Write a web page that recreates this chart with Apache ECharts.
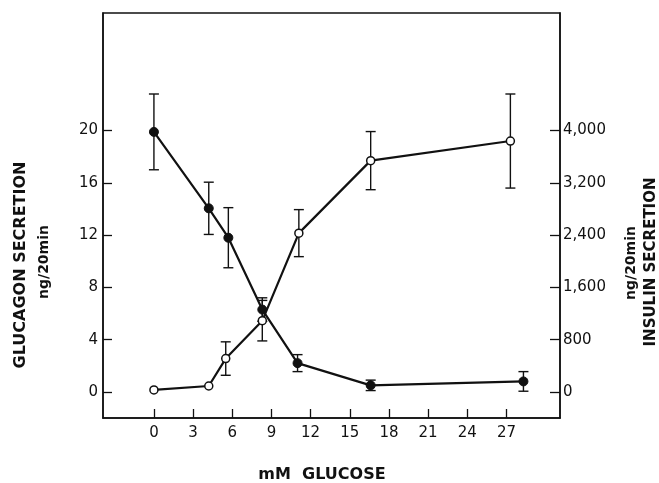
<!DOCTYPE html>
<html>
<head>
<meta charset="utf-8">
<script src="https://cdn.jsdelivr.net/npm/echarts@6/dist/echarts.min.js"></script>
<style>
  html, body { margin: 0; padding: 0; background: #fff; }
  #chart { width: 659px; height: 483px; }
</style>
</head>
<body>
<div id="chart"></div>
<script>
// Glucose concentrations (mM) and secretion responses
const glucoseGlucagon = [0, 4.2, 5.7, 8.3, 11.0, 16.6, 28.3];
const glucagonMean    = [19.9, 14.05, 11.8, 6.3, 2.2, 0.5, 0.8];
const glucagonErr     = [2.9, 2.0, 2.3, 0.9, 0.65, 0.4, 0.75];

const glucoseInsulin  = [0, 4.2, 5.5, 8.3, 11.1, 16.6, 27.3];
const insulinMean     = [30, 90, 510, 1090, 2430, 3540, 3840];
const insulinErr      = [0, 0, 256, 310, 360, 445, 720];

const xTicks        = [0, 3, 6, 9, 12, 15, 18, 21, 24, 27];
const glucagonTicks = [0, 4, 8, 12, 16, 20];
const insulinTicks  = [0, 800, 1600, 2400, 3200, 4000];

const FONT = 'DejaVu Sans';
const INK = '#111';

const pairs = (xs, ys) => xs.map((x, i) => [x, ys[i]]);
const errRows = (xs, ys, es) => xs.map((x, i) => [x, ys[i] - es[i], ys[i] + es[i]]).filter((r, i) => es[i] > 0);

// Vertical bar with a cap at each end, placed through the series' axes
function errorBar(params, api) {
  const x = api.value(0);
  const lo = api.coord([x, api.value(1)]);
  const hi = api.coord([x, api.value(2)]);
  const w = 5;
  const style = { stroke: INK, lineWidth: 1.4 };
  return {
    type: 'group',
    children: [
      { type: 'line', shape: { x1: lo[0], y1: lo[1], x2: hi[0], y2: hi[1] }, style },
      { type: 'line', shape: { x1: lo[0] - w, y1: lo[1], x2: lo[0] + w, y2: lo[1] }, style },
      { type: 'line', shape: { x1: hi[0] - w, y1: hi[1], x2: hi[0] + w, y2: hi[1] }, style }
    ]
  };
}

const thousands = v => v >= 1000 ? String(v).replace(/(\d)(\d{3})$/, '$1,$2') : String(v);

const axisLineStyle = { show: true, onZero: false, lineStyle: { color: INK, width: 1.5 } };
const tickStyle = { lineStyle: { color: INK, width: 1.3 } };

const chart = echarts.init(document.getElementById('chart'), null, { renderer: 'canvas' });
chart.setOption({
  backgroundColor: '#fff',
  animation: false,
  grid: {
    left: 103, right: 99, top: 13, bottom: 65,
    show: true, borderColor: INK, borderWidth: 1.5, backgroundColor: 'transparent'
  },
  xAxis: {
    type: 'value', min: -3.9, max: 31.1,
    axisLine: axisLineStyle,
    splitLine: { show: false },
    axisTick: { inside: true, length: 9, customValues: xTicks, ...tickStyle },
    axisLabel: { customValues: xTicks, margin: 8, fontFamily: FONT, fontSize: 15, color: INK }
  },
  yAxis: [
    {
      type: 'value', min: -2, max: 29, position: 'left',
      axisLine: axisLineStyle,
      splitLine: { show: false },
      axisTick: { show: true, inside: true, length: 9, customValues: glucagonTicks, ...tickStyle },
      axisLabel: { customValues: glucagonTicks, margin: 5, fontFamily: FONT, fontSize: 15, color: INK }
    },
    {
      type: 'value', min: -400, max: 5800, position: 'right',
      axisLine: axisLineStyle,
      splitLine: { show: false },
      axisTick: { show: true, inside: true, length: 10, customValues: insulinTicks, ...tickStyle },
      axisLabel: { customValues: insulinTicks, margin: 3, fontFamily: FONT, fontSize: 15, color: INK,
                   formatter: thousands }
    }
  ],
  graphic: [
    { type: 'text', x: 21, y: 265, rotation: Math.PI / 2,
      style: { text: 'GLUCAGON SECRETION', font: 'bold 16px "' + FONT + '"', fill: INK, align: 'center', verticalAlign: 'middle' } },
    { type: 'text', x: 44, y: 262, rotation: Math.PI / 2,
      style: { text: 'ng/20min', font: 'bold 14px "' + FONT + '"', fill: INK, align: 'center', verticalAlign: 'middle' } },
    { type: 'text', x: 651, y: 262, rotation: Math.PI / 2,
      style: { text: 'INSULIN SECRETION', font: 'bold 15px "' + FONT + '"', fill: INK, align: 'center', verticalAlign: 'middle' } },
    { type: 'text', x: 631, y: 263, rotation: Math.PI / 2,
      style: { text: 'ng/20min', font: 'bold 14px "' + FONT + '"', fill: INK, align: 'center', verticalAlign: 'middle' } },
    { type: 'text', x: 322, y: 475,
      style: { text: 'mM  GLUCOSE', font: 'bold 16px "' + FONT + '"', fill: INK, align: 'center', verticalAlign: 'middle' } }
  ],
  series: [
    {
      name: 'Glucagon error', type: 'custom', xAxisIndex: 0, yAxisIndex: 0, z: 2,
      renderItem: errorBar, data: errRows(glucoseGlucagon, glucagonMean, glucagonErr)
    },
    {
      name: 'Insulin error', type: 'custom', xAxisIndex: 0, yAxisIndex: 1, z: 2,
      renderItem: errorBar, data: errRows(glucoseInsulin, insulinMean, insulinErr)
    },
    {
      name: 'Glucagon', type: 'line', yAxisIndex: 0, z: 3,
      data: pairs(glucoseGlucagon, glucagonMean),
      symbol: 'circle', symbolSize: 9,
      lineStyle: { color: INK, width: 2.2 },
      itemStyle: { color: INK, borderColor: INK, borderWidth: 1 }
    },
    {
      name: 'Insulin', type: 'line', yAxisIndex: 1, z: 4,
      data: pairs(glucoseInsulin, insulinMean),
      symbol: 'circle', symbolSize: 8,
      lineStyle: { color: INK, width: 2.2 },
      itemStyle: { color: '#fff', borderColor: INK, borderWidth: 1.5 }
    }
  ]
});
</script>
</body>
</html>
